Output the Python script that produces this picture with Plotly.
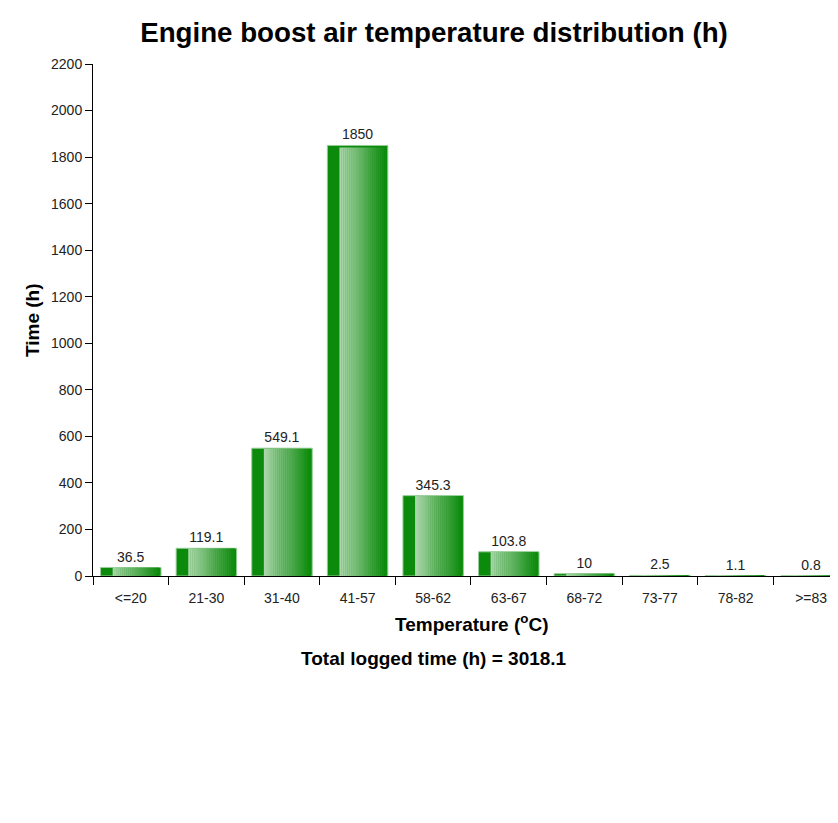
import plotly.graph_objects as go

# データ
temp_ranges = ["<=20", "21-30", "31-40", "41-57", "58-62", "63-67", "68-72", "73-77", "78-82", ">=83"]
hours = [36.5, 119.1, 549.1, 1850, 345.3, 103.8, 10, 2.5, 1.1, 0.8]
hour_labels = ["36.5", "119.1", "549.1", "1850", "345.3", "103.8", "10", "2.5", "1.1", "0.8"]
total_hours = 3018.1

FONT = "Arial, Liberation Sans, sans-serif"
BAR_W = 0.8
DARK = (12, 138, 12)
LIGHT = (170, 214, 170)
END = (14, 140, 14)

fig = go.Figure()

# ベースの棒（濃い緑）
fig.add_trace(go.Bar(
    x=temp_ranges, y=hours, width=BAR_W,
    marker=dict(color="rgb(%d,%d,%d)" % DARK, line=dict(color="rgb(150,205,150)", width=1)),
    text=hour_labels, textposition="outside",
    textfont=dict(size=14, color="#222", family=FONT),
    cliponaxis=False, hoverinfo="skip",
))

# グラデーション部分を細い棒で重ねる
n = 24
start = 0.2
stop = 0.97
seg = BAR_W * (stop - start) / n
for i in range(n):
    t = i / (n - 1)
    c = tuple(int(LIGHT[k] + (END[k] - LIGHT[k]) * t) for k in range(3))
    fig.add_trace(go.Bar(
        x=temp_ranges, y=[v * 0.995 for v in hours],
        width=seg * 1.15,
        offset=-BAR_W / 2 + BAR_W * start + i * seg,
        marker=dict(color="rgb(%d,%d,%d)" % c, line=dict(width=0)),
        hoverinfo="skip",
    ))

fig.update_layout(
    barmode="overlay",
    width=830, height=815,
    margin=dict(l=85, r=0, t=56, b=247),
    plot_bgcolor="white", paper_bgcolor="white",
    showlegend=False,
    font=dict(family=FONT, color="#222"),
    title=dict(text="<b>Engine boost air temperature distribution (h)</b>",
               x=426 / 830, xanchor="center", y=1 - 24 / 815, yanchor="middle",
               font=dict(size=27.7, color="black", family=FONT)),
    xaxis=dict(
        type="category", range=[-0.5, 9.355],
        showline=True, linecolor="black", linewidth=1,
        ticks="outside", tickson="boundaries", ticklen=8, tickcolor="black",
        ticklabelstandoff=9,
        tickfont=dict(size=14, color="#222"), showgrid=False,
    ),
    yaxis=dict(
        range=[0, 2200], dtick=200,
        showline=True, linecolor="black", linewidth=1,
        ticks="outside", ticklen=7, tickcolor="black",
        tickfont=dict(size=14, color="#222"), showgrid=False, zeroline=False,
    ),
)

fig.add_annotation(text="<b>Time (h)</b>", textangle=-90, xref="paper", yref="paper",
                   x=-61 / 745, y=0.5, xanchor="center", yanchor="middle", showarrow=False,
                   font=dict(size=19, color="black", family=FONT))
fig.add_annotation(text="<b>Temperature (<sup>o</sup>C)</b>", xref="paper", yref="paper",
                   x=(472 - 93) / 745, y=-47 / 512, xanchor="center", yanchor="middle", showarrow=False,
                   font=dict(size=19, color="black", family=FONT))
fig.add_annotation(text="<b>Total logged time (h) = %s</b>" % total_hours, xref="paper", yref="paper",
                   x=(434 - 93) / 745, y=-82 / 512, xanchor="center", yanchor="middle", showarrow=False,
                   font=dict(size=19, color="black", family=FONT))

fig.write_html("out.html")
